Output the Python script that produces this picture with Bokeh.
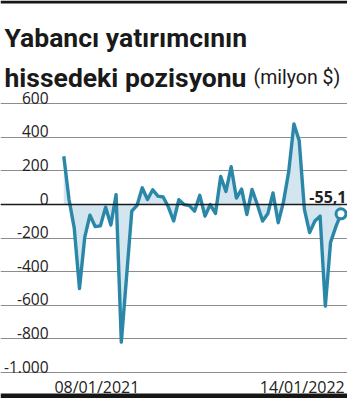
from bokeh.plotting import figure
from bokeh.models import FixedTicker, Label, Span, Range1d, ColumnDataSource
from bokeh.core.properties import value as val
from bokeh.embed import file_html
from bokeh.resources import INLINE

# ---- data ----
values = [288, 30, -140, -500, -196, -63, -131, -127, -16, -122, 59, -819, -430, -39,
          -5, 100, 30, 88, 50, 45, -15, -98, 29, 0, -6, -39, 55, -69, 0, -53,
          167, 78, 225, 39, 92, -59, 90, 0, -98, -55, 69, -108, 16, 196, 480, 382,
          -29, -167, -98, -69, -604, -225, -133, -55.1]
idx = list(range(len(values)))
x_tick_pos = [6.33, 45.6]
x_tick_labels = ["08/01/2021", "14/01/2022"]
y_ticks = [-1000, -800, -600, -400, -200, 0, 200, 400, 600]
y_tick_labels = ["-1.000", "-800", "-600", "-400", "-200", "0", "200", "400", "600"]
title1 = "Yabancı yatırımcının"
title2 = "hissedeki pozisyonu"
title2_unit = "(milyon $)"

LINE = "#2b87a8"
FILL = "#d3e5ef"
GRID = "#8c8c8c"
TXT = "#222222"
BAR = "#161616"

W, H = 347, 398
x0, x1 = -12.10, 54.24
y0, y1 = -1154.8, 1215.1
PX_PER_UNIT = H / (y1 - y0)


def y_at(px_from_top):
    """data y of a canvas row (for the decorative black bars)"""
    return y1 - px_from_top / PX_PER_UNIT


p = figure(width=W, height=H, output_backend="svg", toolbar_location=None,
           x_range=Range1d(x0, x1), y_range=Range1d(y0, y1),
           min_border_left=0, min_border_right=0, min_border_top=0, min_border_bottom=0)
p.title.visible = False
p.xaxis.visible = False
p.yaxis.visible = False
p.outline_line_color = None
p.background_fill_color = "white"
p.border_fill_color = "white"

# horizontal grid
p.ygrid.ticker = FixedTicker(ticks=y_ticks)
p.ygrid.grid_line_color = GRID
p.ygrid.grid_line_width = 1
p.xgrid.visible = False

# y tick labels (over the grid at the left)
ysrc = ColumnDataSource(dict(x=[x0] * len(y_ticks), y=y_ticks, t=y_tick_labels))
p.text(x="x", y="y", text="t", source=ysrc, x_offset=48, y_offset=0,
       text_align="right", text_baseline="bottom", text_font=val("Open Sans"),
       text_font_size="15.5px", text_color=TXT)

# x tick labels (dates)
xsrc = ColumnDataSource(dict(x=x_tick_pos, y=[y0] * len(x_tick_pos), t=x_tick_labels))
p.text(x="x", y="y", text="t", source=xsrc, y_offset=-12,
       text_align="center", text_baseline="alphabetic", text_font=val("Open Sans"),
       text_font_size="16px", text_color=TXT)

# zero line
p.add_layout(Span(location=0, dimension="width", line_color="#1a1a1a", line_width=1.6))

# area and line
p.varea(x=idx, y1=[0] * len(values), y2=values, fill_color=FILL, fill_alpha=1)
p.line(idx, values, line_color=LINE, line_width=3.4, line_join="round")
p.scatter([idx[-1]], [values[-1]], size=10, fill_color="white", line_color=LINE, line_width=3)

last_txt = f"{values[-1]:.1f}".replace(".", ",")
p.add_layout(Label(x=idx[-1], y=values[-1], text=last_txt, x_offset=5.5, y_offset=16.6,
                   text_align="right", text_baseline="alphabetic",
                   text_font="Open Sans", text_font_style="bold",
                   text_font_size="16px", text_color=TXT))

# titles (screen units, measured from the frame's bottom-left)
p.add_layout(Label(x=4, y=H - 37, x_units="screen", y_units="screen", text=title1,
                   text_font="Roboto", text_font_style="bold", text_font_size="26.5px",
                   text_color="#1a1a1a", text_baseline="alphabetic"))
p.add_layout(Label(x=4, y=H - 77, x_units="screen", y_units="screen", text=title2,
                   text_font="Roboto", text_font_style="bold", text_font_size="26.5px",
                   text_color="#1a1a1a", text_baseline="alphabetic"))
p.add_layout(Label(x=253, y=H - 77, x_units="screen", y_units="screen", text=title2_unit,
                   text_font="Roboto", text_font_size="19.5px",
                   text_color="#1a1a1a", text_baseline="alphabetic"))

# decorative black bars at the top and bottom edges
p.quad(left=[x0, x0], right=[x1, x1], top=[y_at(0), y_at(393)],
       bottom=[y_at(3), y_at(H)], fill_color=BAR, line_color=None)

open("out.html", "w").write(file_html(p, INLINE))
